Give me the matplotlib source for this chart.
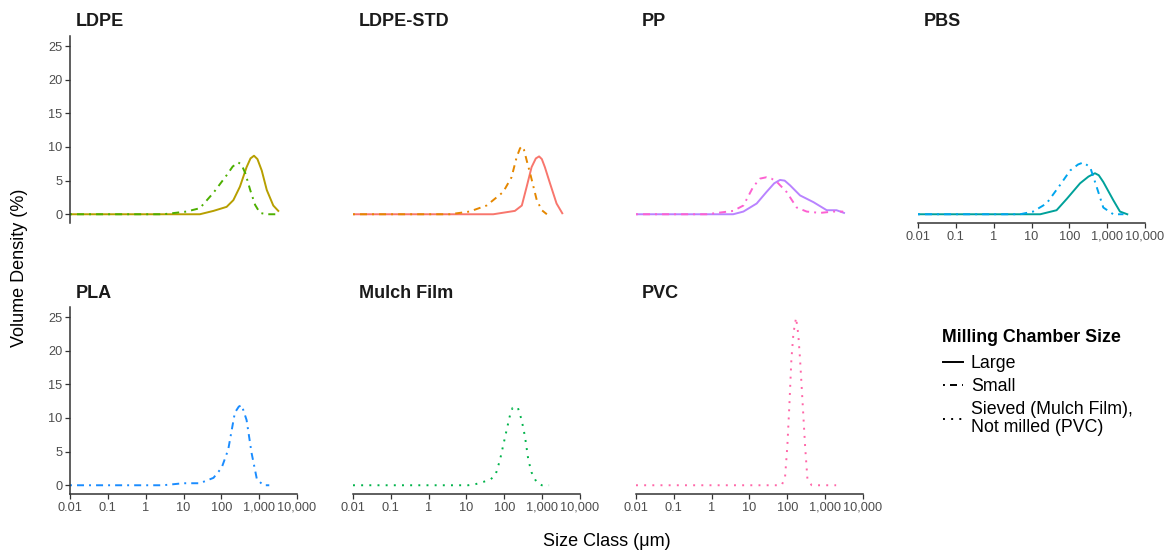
import matplotlib
matplotlib.use('Agg')
import matplotlib.pyplot as plt
from matplotlib.lines import Line2D

plt.rcParams['font.family'] = ['Liberation Sans', 'DejaVu Sans']

# ---------------- data (size in µm, volume density in %) ----------------
x_ticks = [0.01, 0.1, 1, 10, 100, 1000, 10000]
x_tick_labels = ["0.01", "0.1", "1", "10", "100", "1,000", "10,000"]
y_ticks = [0, 5, 10, 15, 20, 25]

ldpe_large_x = [0.01, 0.1, 1, 10, 27, 62, 138, 208, 310, 465, 590, 730, 900, 1170, 1590, 2360, 3200]
ldpe_large_y = [0, 0, 0, 0, 0, 0.5, 1.1, 2.1, 4.1, 7.0, 8.3, 8.7, 8.2, 6.5, 3.6, 1.3, 0.5]
ldpe_small_x = [0.01, 0.1, 1, 2.9, 12, 27, 62, 138, 200, 280, 340, 430, 580, 780, 1050, 1590, 3200]
ldpe_small_y = [0, 0, 0, 0, 0.4, 0.9, 3.2, 5.8, 7.1, 7.7, 7.4, 6.1, 3.6, 1.4, 0.2, 0, 0]

ldpestd_large_x = [0.01, 0.1, 1, 10, 51, 190, 290, 390, 525, 680, 830, 980, 1180, 1610, 2400, 3400]
ldpestd_large_y = [0, 0, 0, 0, 0, 0.5, 1.3, 4.1, 7.0, 8.3, 8.6, 8.2, 7.0, 4.6, 1.6, 0.15]
ldpestd_small_x = [0.01, 0.1, 1, 3.6, 12, 34, 93, 155, 212, 260, 290, 330, 390, 480, 720, 980, 1330]
ldpestd_small_y = [0, 0, 0, 0, 0.4, 1.3, 3.3, 5.5, 8.5, 9.8, 10.1, 9.6, 8.0, 6.1, 2.1, 0.6, 0]

pp_large_x = [0.01, 0.1, 1, 3.7, 6.9, 15.5, 28, 45, 64, 85, 118, 217, 490, 1100, 2000, 3150]
pp_large_y = [0, 0, 0, 0, 0.4, 1.6, 3.3, 4.6, 5.1, 5.0, 4.3, 2.8, 1.8, 0.6, 0.6, 0.2]
pp_small_x = [0.01, 0.1, 0.74, 3.7, 6.9, 12.6, 19, 28, 38, 53, 96, 177, 325, 730, 1650, 3000]
pp_small_y = [0, 0, 0, 0.5, 1.3, 4.1, 5.3, 5.5, 5.3, 4.8, 3.3, 1.0, 0.4, 0.2, 0.4, 0.4]

pbs_large_x = [0.01, 0.1, 1, 17, 46, 86, 192, 320, 475, 600, 790, 1450, 2180, 3400]
pbs_large_y = [0, 0, 0, 0, 0.6, 2.3, 4.6, 5.6, 6.1, 5.8, 4.8, 2.1, 0.4, 0]
pbs_small_x = [0.01, 0.1, 1, 5, 11, 25, 56, 105, 170, 233, 355, 525, 790, 1450, 2700]
pbs_small_y = [0, 0, 0, 0, 0.4, 1.6, 4.3, 6.5, 7.4, 7.7, 7.0, 4.1, 1.0, 0, 0]

pla_small_x = [0.01, 0.1, 1, 2.9, 9.8, 27, 62, 102, 152, 228, 290, 345, 465, 630, 870, 1290, 1850]
pla_small_y = [0, 0, 0, 0, 0.3, 0.3, 1.1, 2.6, 5.3, 10.8, 11.7, 11.9, 9.7, 4.8, 0.9, 0, 0]

mulch_sieved_x = [0.01, 0.1, 1, 11, 17, 28, 44, 59, 77, 94, 115, 141, 165, 226, 287, 352, 430, 525, 720, 980, 1520]
mulch_sieved_y = [0, 0, 0, 0, 0.15, 0.5, 0.9, 1.6, 3.8, 6.0, 8.2, 10.4, 11.5, 11.6, 9.7, 7.2, 3.8, 1.9, 0.4, 0, 0]

pvc_notmilled_x = [0.01, 0.1, 1, 10, 71, 87, 100, 113, 128, 145, 170, 195, 217, 250, 295, 340, 440, 1950]
pvc_notmilled_y = [0, 0, 0, 0, 0, 1.2, 5.8, 11.8, 18.7, 22.6, 24.9, 22.4, 18.7, 12.8, 5.8, 0.9, 0, 0]

# ---------------- styling ----------------
W, H = 1164, 551
DASHDOT = (0, (1, 2.6, 3.6, 2.6))
DOTTED = (0, (1, 3.2))
LW = 1.4
TICK_FS = 9.2

panels = [
    ("LDPE", [(ldpe_large_x, ldpe_large_y, '#B79F00', '-'),
              (ldpe_small_x, ldpe_small_y, '#4DAF00', DASHDOT)]),
    ("LDPE-STD", [(ldpestd_large_x, ldpestd_large_y, '#F8766D', '-'),
                  (ldpestd_small_x, ldpestd_small_y, '#E58700', DASHDOT)]),
    ("PP", [(pp_large_x, pp_large_y, '#B983FF', '-'),
            (pp_small_x, pp_small_y, '#FD61D1', DASHDOT)]),
    ("PBS", [(pbs_large_x, pbs_large_y, '#00A19A', '-'),
             (pbs_small_x, pbs_small_y, '#00A5EE', DASHDOT)]),
    ("PLA", [(pla_small_x, pla_small_y, '#1A8CFF', DASHDOT)]),
    ("Mulch Film", [(mulch_sieved_x, mulch_sieved_y, '#00B34A', DOTTED)]),
    ("PVC", [(pvc_notmilled_x, pvc_notmilled_y, '#FF66A8', DOTTED)]),
]

col_left = [70, 353, 636, 918]
col_w = 227
row_top = [36, 307]
row_h = 187

fig = plt.figure(figsize=(W / 100, H / 100), dpi=100)

axis_col = '#333333'
tick_col = '#4D4D4D'

for i, (name, series) in enumerate(panels):
    r, c = divmod(i, 4)
    l = col_left[c]
    t = row_top[r]
    ax = fig.add_axes([l / W, 1 - (t + row_h) / H, col_w / W, row_h / H])
    for xs, ys, colr, ls in series:
        ax.plot(xs, ys, color=colr, linestyle=ls, linewidth=LW)
    ax.set_xscale('log')
    ax.set_xlim(0.01, 10000)
    ax.set_ylim(-1.3, 26.5)
    ax.minorticks_off()
    ax.set_facecolor('none')
    for s in ['top', 'right']:
        ax.spines[s].set_visible(False)
    show_y = (c == 0)
    show_x = (r == 1) or (i == 3)
    ax.spines['left'].set_visible(show_y)
    ax.spines['bottom'].set_visible(show_x)
    for s in ['left', 'bottom']:
        ax.spines[s].set_color(axis_col)
        ax.spines[s].set_linewidth(1.1)
    if show_y:
        ax.set_yticks(y_ticks)
        ax.set_yticklabels([str(v) for v in y_ticks])
        ax.tick_params(axis='y', length=3.5, width=0.9, color=axis_col,
                       labelsize=TICK_FS, labelcolor=tick_col, pad=2)
    else:
        ax.set_yticks([])
    if show_x:
        ax.set_xticks(x_ticks)
        ax.set_xticklabels(x_tick_labels)
        ax.tick_params(axis='x', length=3.5, width=0.9, color=axis_col,
                       labelsize=TICK_FS, labelcolor=tick_col, pad=2)
    else:
        ax.set_xticks([])
    fig.text((l + 6) / W, 1 - (t - 14) / H, name, fontsize=13,
             fontweight='bold', color='#1A1A1A', ha='left', va='center')

fig.text(20 / W, 1 - 268 / H, "Volume Density (%)", rotation=90,
         fontsize=13, ha='center', va='center', color='black')
fig.text(607 / W, 1 - 541 / H, "Size Class (\u03bcm)", fontsize=13,
         ha='center', va='center', color='black')

fig.text(942 / W, 1 - 337 / H, "Milling Chamber Size", fontsize=12.8,
         fontweight='bold', ha='left', va='center', color='black')

handles = [Line2D([], [], color='black', linestyle='-', linewidth=LW),
           Line2D([], [], color='black', linestyle=DASHDOT, linewidth=LW),
           Line2D([], [], color='black', linestyle=DOTTED, linewidth=LW)]
labels = ["Large", "Small", "Sieved (Mulch Film),\nNot milled (PVC)"]
leg = fig.legend(handles, labels,
                 loc='upper left', bbox_to_anchor=(943 / W, 1 - 355 / H),
                 frameon=False, fontsize=12.8,
                 handlelength=1.1, handletextpad=0.47, labelspacing=0.33,
                 borderpad=0, borderaxespad=0)
for txt in leg.get_texts():
    txt.set_linespacing(1.1)

fig.savefig('out.png', dpi=100)
